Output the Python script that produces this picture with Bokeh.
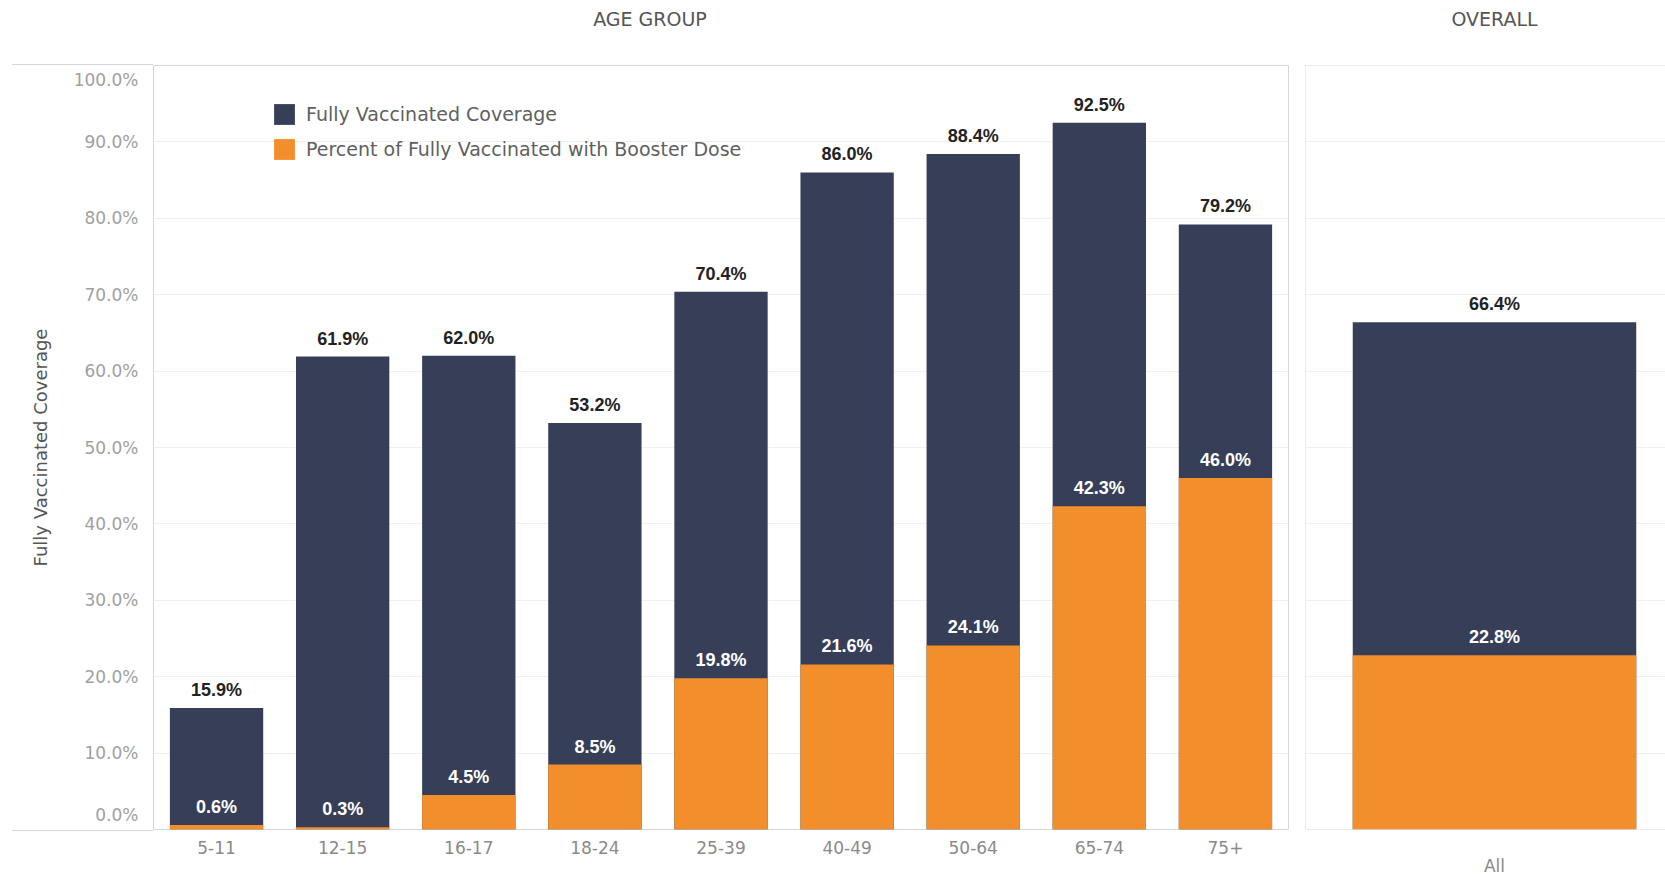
from bokeh.plotting import figure
from bokeh.models import (ColumnDataSource, FactorRange, Range1d, PrintfTickFormatter,
                          FixedTicker, Legend, LegendItem, LabelSet, Span, Div)
from bokeh.core.properties import value
from bokeh.layouts import row, column
from bokeh.embed import file_html
from bokeh.resources import INLINE

# ---- data ----
age_groups = ["5-11", "12-15", "16-17", "18-24", "25-39", "40-49", "50-64", "65-74", "75+"]
fully_vaccinated = [15.9, 61.9, 62.0, 53.2, 70.4, 86.0, 88.4, 92.5, 79.2]
booster = [0.6, 0.3, 4.5, 8.5, 19.8, 21.6, 24.1, 42.3, 46.0]
overall_cats = ["All"]
overall_fully = [66.4]
overall_booster = [22.8]
y_ticks = [0, 10, 20, 30, 40, 50, 60, 70, 80, 90, 100]
panel_titles = ["AGE GROUP", "OVERALL"]

NAVY = "#363f57"
ORANGE = "#F28E2B"
FONT = "DejaVu Sans"
BOLD_FONT = "Liberation Sans"
GRID = "#f0f0f0"
FRAME = "#d6d6d6"

HEAD_H = 45
TOP = 20
FRAME_H = 766
BOT = 47
H = TOP + FRAME_H + BOT
LEFT = 153
Y_MIN, Y_MAX = y_ticks[0], y_ticks[-1]

# like the original, the end tick labels are kept inside the pane (15 px inset)
inset = round(15 * (Y_MAX - Y_MIN) / FRAME_H, 2)
label_pos = {t: (t + inset if t == Y_MIN else t - inset if t == Y_MAX else t) for t in y_ticks}


def style_axis(ax, standoff, color="#8a8a8a"):
    ax.axis_line_color = None
    ax.major_tick_line_color = None
    ax.minor_tick_line_color = None
    ax.major_tick_out = 0
    ax.major_tick_in = 0
    ax.minor_tick_out = 0
    ax.minor_tick_in = 0
    ax.major_label_text_font = FONT
    ax.major_label_text_font_size = "17px"
    ax.major_label_text_color = color
    ax.major_label_standoff = standoff


def add_value_labels(fig, source):
    fig.add_layout(LabelSet(x="x", y="full", text="full_txt", source=source, y_offset=8,
                            text_align="center", text_baseline="bottom", text_font=value(BOLD_FONT),
                            text_font_size=value("18px"), text_font_style=value("bold"),
                            text_color=value("#222222")))
    fig.add_layout(LabelSet(x="x", y="boost", text="boost_txt", source=source, y_offset=8,
                            text_align="center", text_baseline="bottom", text_font=value(BOLD_FONT),
                            text_font_size=value("18px"), text_font_style=value("bold"),
                            text_color=value("white")))


src = ColumnDataSource(dict(
    x=age_groups, full=fully_vaccinated, boost=booster,
    full_txt=[f"{v:.1f}%" for v in fully_vaccinated],
    boost_txt=[f"{v:.1f}%" for v in booster],
))

# ---- left panel: age groups ----
p = figure(x_range=FactorRange(*age_groups), y_range=Range1d(Y_MIN, Y_MAX),
           width=1296, height=H, output_backend="svg", toolbar_location=None,
           min_border_left=LEFT, min_border_right=8, min_border_top=TOP, min_border_bottom=BOT)
p.outline_line_color = FRAME
p.border_fill_alpha = 0
r_full = p.vbar(x="x", top="full", bottom=0, width=0.74, source=src, fill_color=NAVY, line_color=None)
r_boost = p.vbar(x="x", top="boost", bottom=0, width=0.74, source=src, fill_color=ORANGE, line_color=None)
add_value_labels(p, src)

p.yaxis.ticker = FixedTicker(ticks=list(label_pos.values()))
p.yaxis.formatter = PrintfTickFormatter(format="%.1f%%")
p.yaxis.major_label_overrides = {pos: f"{t:.1f}%" for t, pos in label_pos.items() if pos != t}
p.yaxis.axis_label = "Fully Vaccinated Coverage"
p.yaxis.axis_label_text_font = FONT
p.yaxis.axis_label_text_font_size = "18px"
p.yaxis.axis_label_text_font_style = "normal"
p.yaxis.axis_label_text_color = "#555555"
p.yaxis.axis_label_standoff = 20
style_axis(p.xaxis[0], 11)
style_axis(p.yaxis[0], 15, "#a0a0a0")
p.xgrid.grid_line_color = None
p.ygrid.grid_line_color = GRID
p.ygrid.ticker = FixedTicker(ticks=y_ticks)

legend = Legend(items=[LegendItem(label="Fully Vaccinated Coverage", renderers=[r_full]),
                       LegendItem(label="Percent of Fully Vaccinated with Booster Dose", renderers=[r_boost])],
                location=(118, 667), padding=0, margin=0, border_line_color=None,
                background_fill_alpha=0, glyph_width=26, glyph_height=26, label_height=26,
                spacing=9, label_standoff=9, label_text_font=FONT,
                label_text_font_size="19px", label_text_color="#5f5f5f")
p.add_layout(legend)

# ---- right panel: overall ----
osrc = ColumnDataSource(dict(
    x=list(range(len(overall_cats))), full=overall_fully, boost=overall_booster,
    full_txt=[f"{v:.1f}%" for v in overall_fully],
    boost_txt=[f"{v:.1f}%" for v in overall_booster],
))
q = figure(x_range=Range1d(-0.5, 0.4524), y_range=Range1d(Y_MIN, Y_MAX),
           width=369, height=H, output_backend="svg", toolbar_location=None,
           min_border_left=9, min_border_right=0, min_border_top=TOP, min_border_bottom=BOT)
q.outline_line_color = None
q.vbar(x="x", top="full", bottom=0, width=0.75, source=osrc, fill_color=NAVY, line_color=None)
q.vbar(x="x", top="boost", bottom=0, width=0.75, source=osrc, fill_color=ORANGE, line_color=None)
add_value_labels(q, osrc)
q.yaxis.visible = False
q.xaxis.ticker = FixedTicker(ticks=list(range(len(overall_cats))))
q.xaxis.major_label_overrides = {i: c for i, c in enumerate(overall_cats)}
style_axis(q.xaxis[0], 26)
q.xgrid.grid_line_color = None
q.ygrid.grid_line_color = GRID
q.ygrid.ticker = FixedTicker(ticks=y_ticks)
q.add_layout(Span(location=-0.5, dimension="height", line_color=FRAME, line_width=1))
q.add_layout(Span(location=Y_MAX, dimension="width", line_color=FRAME, line_width=1))
q.add_layout(Span(location=Y_MIN, dimension="width", line_color=FRAME, line_width=1))

# ---- panel headers (plus the pane rules that run under the axis column) ----
head_style = {"text-align": "center", "font-family": FONT, "font-size": "19px",
              "color": "#555555", "line-height": "38px", "margin": "0", "padding": "0",
              "overflow": "visible", "z-index": "5"}
rule = ("position:absolute;left:12px;width:{w}px;height:0;top:{t}px;"
        "border-top:1px solid " + FRAME + ";")
h1_html = (panel_titles[0]
           + f"<div style='{rule.format(w=LEFT - 12, t=HEAD_H + TOP - 1)}'></div>"
           + f"<div style='{rule.format(w=LEFT - 12, t=HEAD_H + TOP + FRAME_H - 1)}'></div>")
h1 = Div(text=h1_html, width=1300, height=HEAD_H, styles=head_style)
h2 = Div(text=panel_titles[1], width=365, height=HEAD_H,
         styles=dict(head_style, **{"text-indent": "24px"}))

layout = column(row(h1, h2, spacing=0), row(p, q, spacing=0), spacing=0)
open("out.html", "w").write(file_html(layout, INLINE))
